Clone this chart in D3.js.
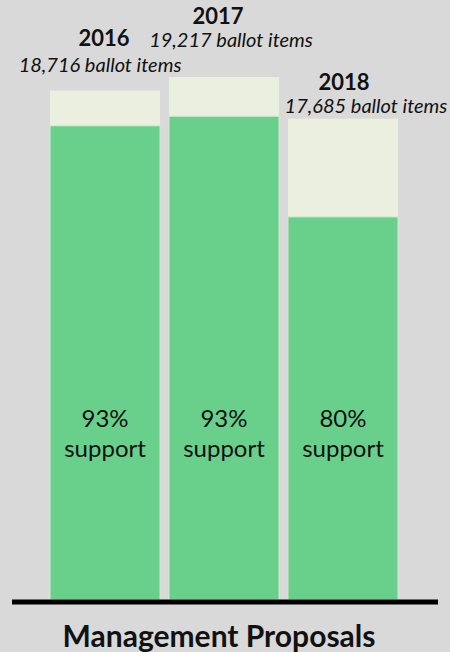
<!DOCTYPE html>
<html>
<head>
<meta charset="utf-8">
<script src="https://cdn.jsdelivr.net/npm/d3@7"></script>
<style>
  body { margin: 0; background: #d9d9d9; }
  text { font-family: Lato, "Noto Sans", sans-serif; fill: #111; }
</style>
</head>
<body>
<script>
// Data
var years = ["2016", "2017", "2018"];
var ballotItems = [18716, 19217, 17685];
var supportShare = [0.931, 0.925, 0.796];
var title = "Management Proposals";

var width = 450;
var height = 652;
var baseY = 600;

var svg = d3.select("body")
        .append("svg")
        .attr("width", width)
        .attr("height", height);

var x = d3.scaleBand()
        .domain(years)
        .range([50, 398])
        .paddingInner(0.075);

var y = d3.scaleLinear()
        .domain([0, d3.max(ballotItems)])
        .range([baseY, 77]);

var fmtItems = d3.format(",");
var fmtPct = d3.format(".0%");

var bars = svg.selectAll("g.bar")
        .data(years)
        .enter()
        .append("g")
        .attr("class", "bar");

// total ballot items (light)
bars.append("rect")
        .attr("x", function(d) { return x(d); })
        .attr("width", x.bandwidth())
        .attr("y", function(d, i) { return y(ballotItems[i]); })
        .attr("height", function(d, i) { return baseY - y(ballotItems[i]); })
        .attr("fill", "#ebf0de");

// supported share (green)
bars.append("rect")
        .attr("x", function(d) { return x(d); })
        .attr("width", x.bandwidth())
        .attr("y", function(d, i) { return y(ballotItems[i] * supportShare[i]); })
        .attr("height", function(d, i) { return baseY - y(ballotItems[i] * supportShare[i]); })
        .attr("fill", "#69d08c")
        .attr("stroke", "#d6e9cf")
        .attr("stroke-width", 1);

// inside labels
bars.append("text")
        .attr("x", function(d) { return x(d) + x.bandwidth() / 2; })
        .attr("y", 427)
        .attr("text-anchor", "middle")
        .style("font-size", "24px")
        .text(function(d, i) { return fmtPct(supportShare[i]); });

bars.append("text")
        .attr("x", function(d) { return x(d) + x.bandwidth() / 2; })
        .attr("y", 457)
        .attr("text-anchor", "middle")
        .style("font-size", "24px")
        .text("support");

// year + item count labels, nudged like the original
var yearDx = [-1, -6, 1];
var yearDy = [-45, -53, -29];
var itemDx = [-5, 7, 23];
var itemDy = [-19, -30, -6];

bars.append("text")
        .attr("x", function(d, i) { return x(d) + x.bandwidth() / 2 + yearDx[i]; })
        .attr("y", function(d, i) { return y(ballotItems[i]) + yearDy[i]; })
        .attr("text-anchor", "middle")
        .style("font-size", "22px")
        .style("font-weight", "bold")
        .text(function(d) { return d; });

bars.append("text")
        .attr("x", function(d, i) { return x(d) + x.bandwidth() / 2 + itemDx[i]; })
        .attr("y", function(d, i) { return y(ballotItems[i]) + itemDy[i]; })
        .attr("text-anchor", "middle")
        .style("font-size", "20px")
        .style("font-style", "italic")
        .text(function(d, i) { return fmtItems(ballotItems[i]) + " ballot items"; });

// baseline
svg.append("line")
        .attr("x1", 12)
        .attr("x2", 438)
        .attr("y1", baseY + 2)
        .attr("y2", baseY + 2)
        .attr("stroke", "#000")
        .attr("stroke-width", 5);

svg.append("text")
        .attr("x", 219)
        .attr("y", 647)
        .attr("text-anchor", "middle")
        .style("font-size", "30px")
        .style("font-weight", "bold")
        .text(title);
</script>
</body>
</html>
